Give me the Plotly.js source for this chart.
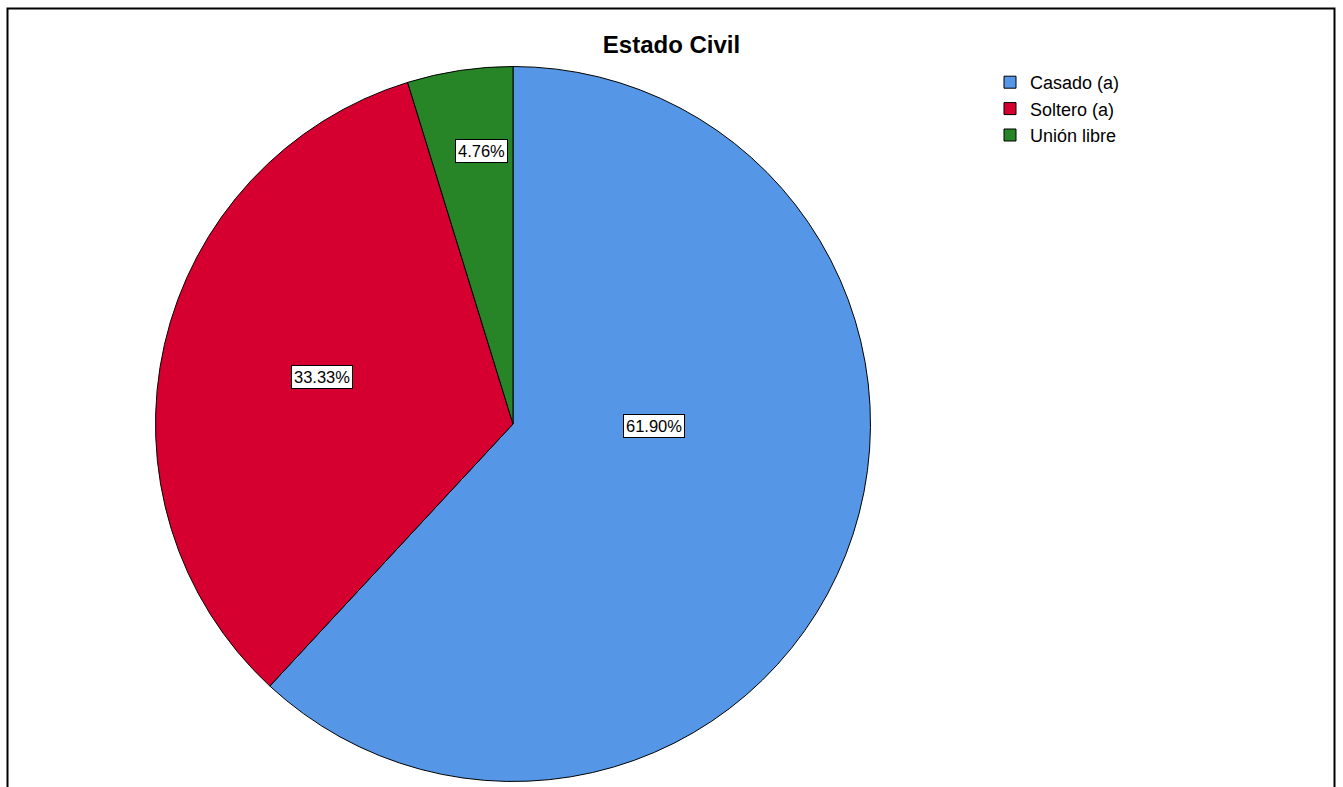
<!DOCTYPE html>
<html>
<head>
<meta charset="utf-8">
<script src="https://cdn.plot.ly/plotly-3.0.1.min.js"></script>
<style>
  html, body { margin: 0; padding: 0; background: #ffffff; }
  #chart { width: 1343px; height: 787px; }
</style>
</head>
<body>
<div id="chart"></div>
<script>
// ---- data ----
const categories = ["Casado (a)", "Soltero (a)", "Unión libre"];
const counts = [13, 7, 1];
const percentLabels = ["61.90%", "33.33%", "4.76%"];

// ---- styles ----
const sliceColors = ["#5597e6", "#d50030", "#278527"];
// label placement: angle tweak (deg) and radius fraction for each label
const labelAngleShift = [-20.5, 1, 2];
const labelRadiusFrac = [0.395, 0.55, 0.77];

const W = 1343, H = 787;
const cx = 513, cy = 424, R = 357.5;
const domX = [(cx - R) / W, (cx + R) / W];
const domY = [(H - (cy + R)) / H, (H - (cy - R)) / H];

// compute label positions from data (clockwise from 12 o'clock)
const total = counts.reduce((a, b) => a + b, 0);
let cum = 0;
const annotations = [];
counts.forEach((v, i) => {
  const start = cum / total * 360;
  cum += v;
  const end = cum / total * 360;
  const mid = (start + end) / 2 + labelAngleShift[i];
  const t = mid * Math.PI / 180;
  const px = cx + R * labelRadiusFrac[i] * Math.sin(t);
  const py = cy - R * labelRadiusFrac[i] * Math.cos(t);
  annotations.push({
    xref: "paper", yref: "paper",
    x: px / W, y: (H - py) / H,
    xanchor: "center", yanchor: "middle",
    text: percentLabels[i],
    showarrow: false,
    bgcolor: "#ffffff",
    bordercolor: "#000000",
    borderwidth: 1,
    borderpad: 2,
    font: { family: "Liberation Sans, Arial, sans-serif", size: 16.5, color: "#000000" }
  });
});

const trace = {
  type: "pie",
  labels: categories,
  values: counts,
  sort: false,
  direction: "clockwise",
  rotation: 0,
  textinfo: "none",
  hoverinfo: "label+percent",
  marker: { colors: sliceColors, line: { color: "#000000", width: 1 } },
  domain: { x: domX, y: domY }
};

const layout = {
  width: W, height: H,
  margin: { l: 0, r: 0, t: 0, b: 0 },
  paper_bgcolor: "#ffffff",
  title: {
    text: "<b>Estado Civil</b>",
    x: 0.5, xanchor: "center",
    y: 1 - 45 / H, yanchor: "middle",
    font: { family: "Liberation Sans, Arial, sans-serif", size: 24, color: "#000000" }
  },
  showlegend: true,
  legend: {
    x: 990 / W, xanchor: "left",
    y: 1 - 64 / H, yanchor: "top",
    font: { family: "Liberation Sans, Arial, sans-serif", size: 18, color: "#000000" },
    tracegroupgap: 0,
    bgcolor: "rgba(0,0,0,0)"
  },
  annotations: annotations,
  shapes: [{
    type: "rect", xref: "paper", yref: "paper",
    x0: 7.5 / W, x1: 1334.5 / W,
    y0: -0.05, y1: 1 - 8.5 / H,
    line: { color: "#000000", width: 2 },
    fillcolor: "rgba(0,0,0,0)",
    layer: "above"
  }]
};

Plotly.newPlot("chart", [trace], layout, { displayModeBar: false, staticPlot: true });
</script>
</body>
</html>
